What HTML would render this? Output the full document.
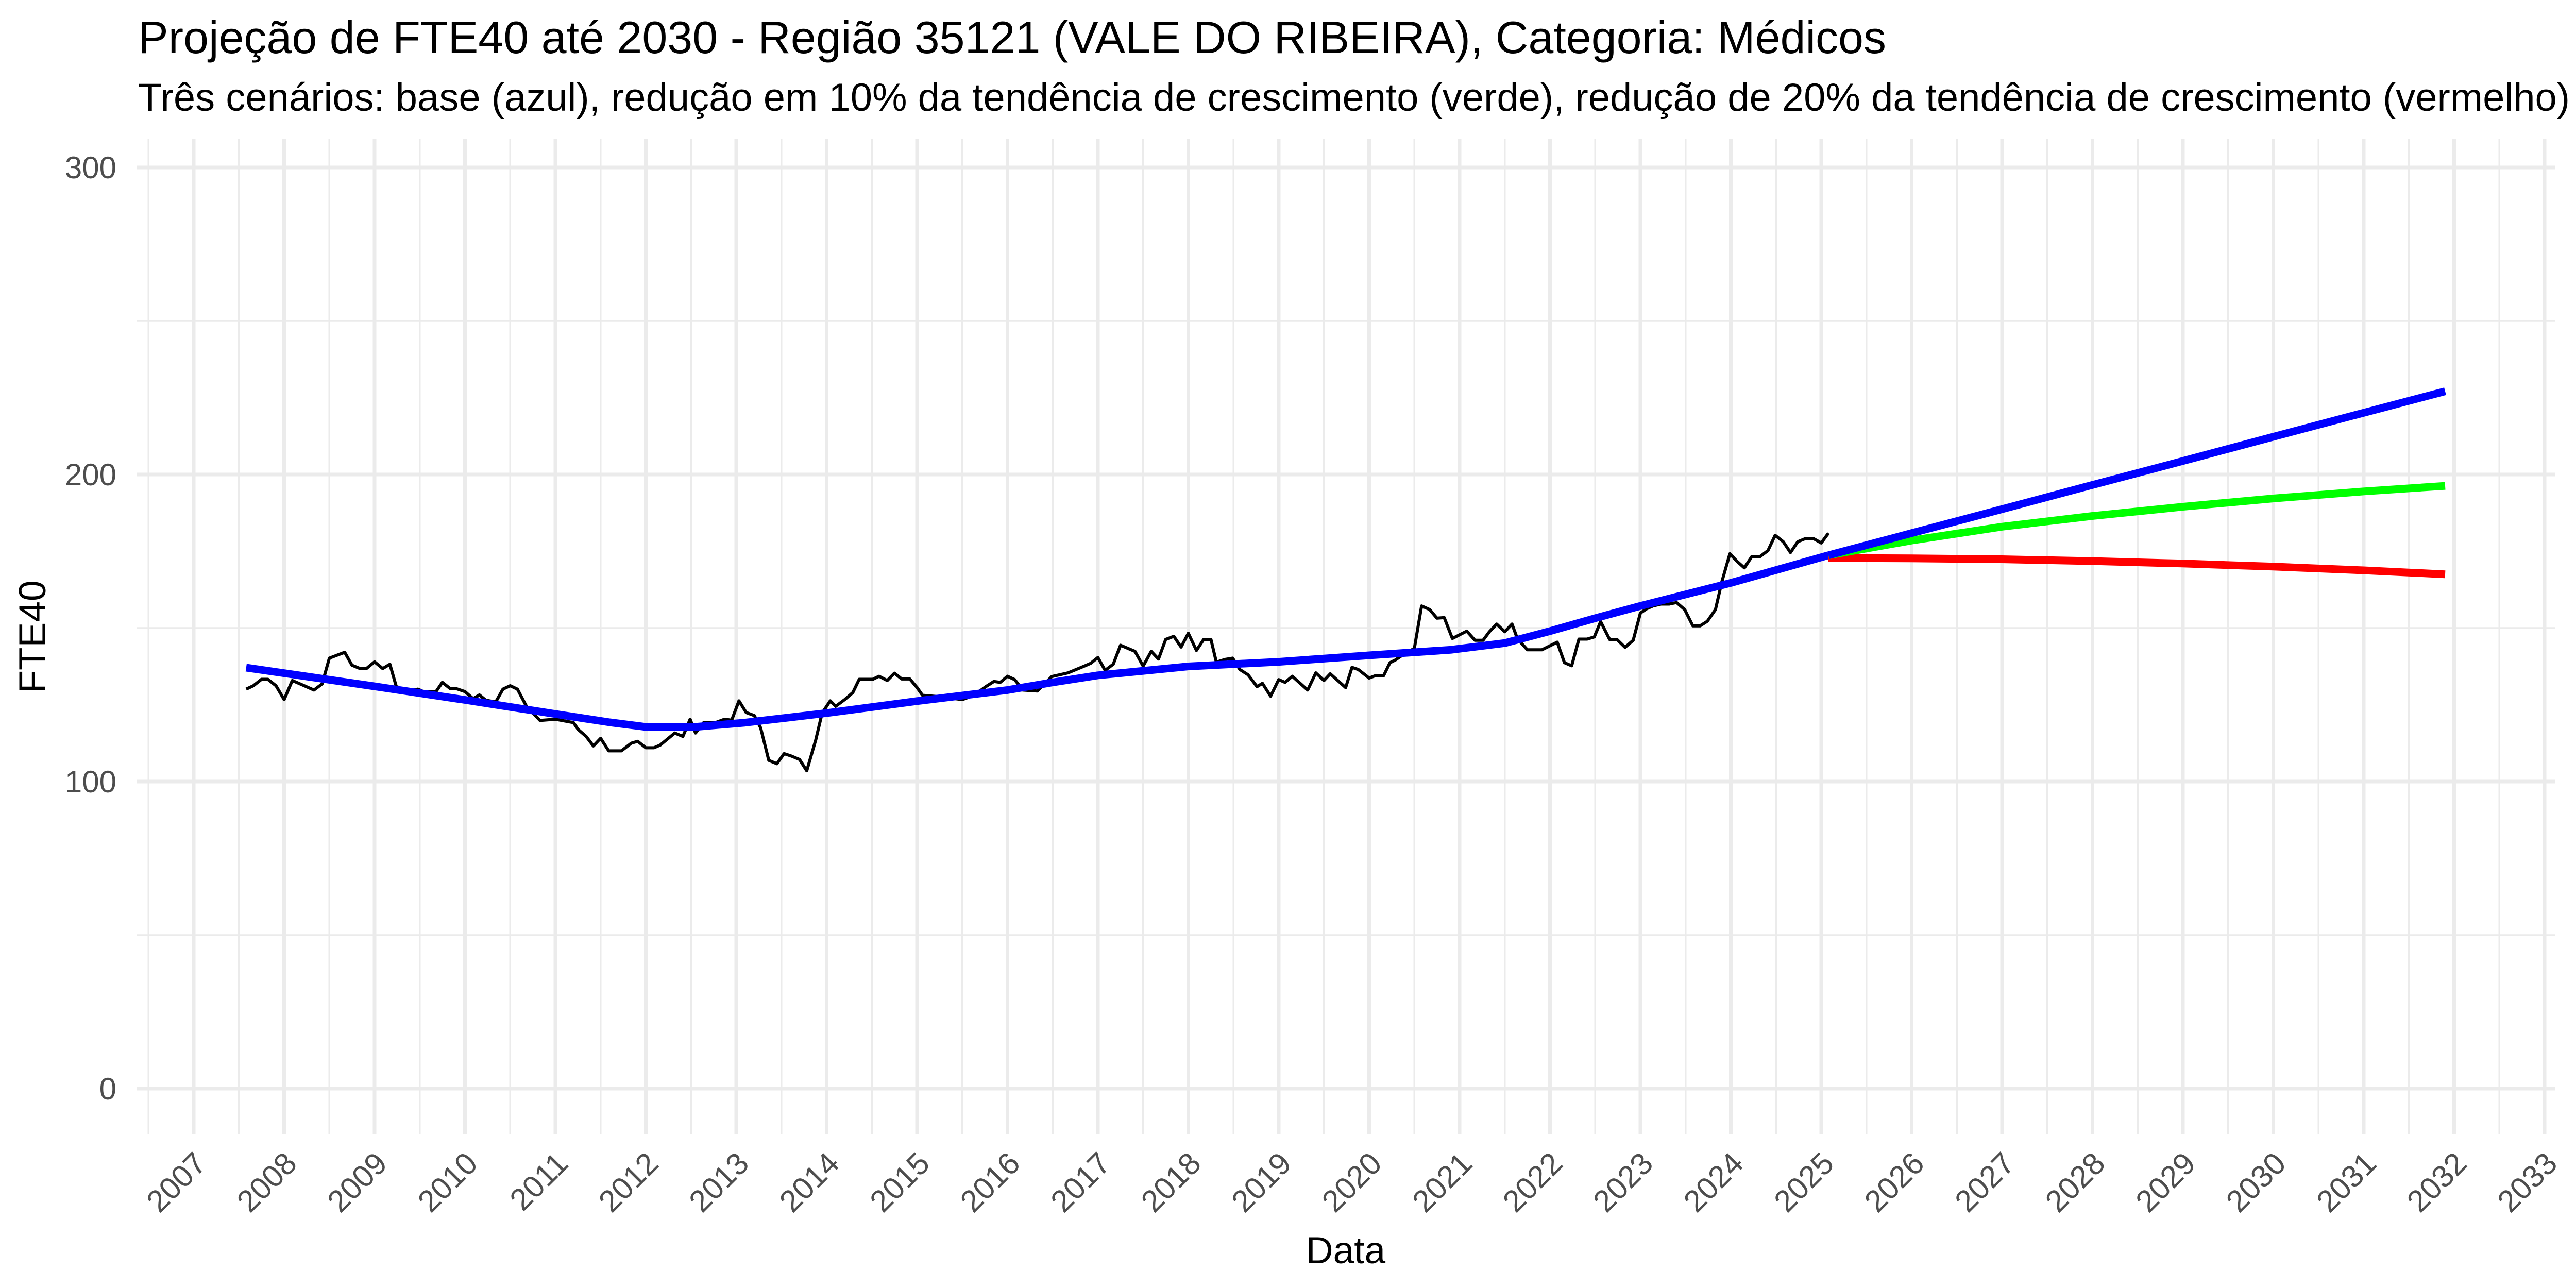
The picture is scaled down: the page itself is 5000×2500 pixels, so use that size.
<!DOCTYPE html>
<html><head><meta charset="utf-8"><style>
html,body{margin:0;padding:0;background:#fff;}
svg{display:block;font-family:"Liberation Sans",Arial,sans-serif;}
</style></head><body>
<svg id="chart" width="5000" height="2500" viewBox="0 0 5000 2500" xmlns="http://www.w3.org/2000/svg">
<text x="268" y="103" font-size="88" fill="#000">Projeção de FTE40 até 2030 - Região 35121 (VALE DO RIBEIRA), Categoria: Médicos</text>
<text x="268" y="215" font-size="76" fill="#000">Três cenários: base (azul), redução em 10% da tendência de crescimento (verde), redução de 20% da tendência de crescimento (vermelho)</text>
<g id="grid"></g>
<g id="yticks"></g>
<g id="xticks"></g>
<g id="series"></g>
<text x="2612" y="2452" font-size="73" text-anchor="middle" fill="#000">Data</text>
<text x="0" y="0" font-size="73" text-anchor="middle" fill="#000" transform="translate(88,1236) rotate(-90)">FTE40</text>
</svg>
<script>
const obsYears = [2007.58,2007.66,2007.75,2007.82,2007.91,2008.0,2008.09,2008.2,2008.33,2008.42,2008.5,2008.67,2008.75,2008.84,2008.91,2009.0,2009.09,2009.17,2009.24,2009.36,2009.48,2009.54,2009.68,2009.75,2009.84,2009.91,2010.0,2010.09,2010.16,2010.23,2010.34,2010.42,2010.5,2010.58,2010.68,2010.83,2011.0,2011.2,2011.25,2011.34,2011.42,2011.5,2011.59,2011.73,2011.84,2011.91,2012.0,2012.09,2012.16,2012.32,2012.41,2012.49,2012.55,2012.64,2012.77,2012.87,2012.95,2013.03,2013.11,2013.2,2013.27,2013.36,2013.45,2013.53,2013.61,2013.7,2013.78,2013.88,2013.95,2014.04,2014.1,2014.2,2014.29,2014.36,2014.45,2014.51,2014.58,2014.67,2014.75,2014.83,2014.92,2015.0,2015.06,2015.26,2015.5,2015.63,2015.76,2015.85,2015.92,2016.0,2016.08,2016.17,2016.33,2016.4,2016.49,2016.67,2016.85,2016.92,2017.0,2017.08,2017.17,2017.25,2017.41,2017.5,2017.59,2017.67,2017.75,2017.84,2017.92,2018.0,2018.09,2018.17,2018.25,2018.31,2018.41,2018.49,2018.57,2018.66,2018.76,2018.82,2018.91,2019.0,2019.07,2019.15,2019.32,2019.41,2019.5,2019.57,2019.74,2019.81,2019.88,2020.0,2020.07,2020.16,2020.23,2020.29,2020.36,2020.5,2020.58,2020.67,2020.75,2020.83,2020.92,2021.08,2021.17,2021.26,2021.33,2021.41,2021.5,2021.58,2021.64,2021.75,2021.91,2022.08,2022.16,2022.24,2022.32,2022.41,2022.49,2022.56,2022.66,2022.74,2022.83,2022.92,2023.0,2023.07,2023.14,2023.23,2023.32,2023.4,2023.49,2023.58,2023.66,2023.74,2023.83,2023.9,2023.99,2024.07,2024.15,2024.23,2024.32,2024.41,2024.49,2024.58,2024.66,2024.74,2024.83,2024.91,2025.0,2025.08];
const obsValues = [130.1,131.2,133.3,133.3,131.2,126.7,132.9,131.5,129.8,131.8,140.2,142.1,137.9,136.8,136.8,139,136.8,138.2,131,129.5,130.1,129.3,129.3,132.3,130.2,130.2,129.3,127,128.2,126.5,125.9,130.1,131.2,130.1,124.5,119.9,120.3,119.2,117,114.7,111.6,114.1,110,110,112.5,113.1,111,111,111.9,115.8,114.7,120.3,115.8,119.2,119.2,120.3,120,126.3,122.5,121.5,117.5,106.9,105.8,109.1,108.3,107.2,103.5,113.6,122.3,126.3,124.5,126.7,129,133.3,133.3,133.3,134.3,132.9,135.3,133.4,133.4,130.6,128.1,127.6,126.7,128.1,130.9,132.6,132.3,134.3,133.2,129.8,129.5,131.5,134.2,135.4,137.6,138.5,140.4,136.2,138.2,144.4,142.4,137.6,142.4,139.9,146.3,147.3,143.8,148.3,142.7,146.3,146.3,138.9,139.8,140.2,136.5,134.8,130.9,132,127.8,133.2,132.3,134.3,129.8,135.4,132.9,135.1,130.6,137.2,136.5,133.7,134.5,134.5,138.7,139.6,141,143.4,157.2,156,153.2,153.4,146.6,149,146,146,148.8,151.3,148.8,151.3,146.5,142.9,142.9,145.4,138.7,137.7,146.4,146.4,147.1,152.1,146.3,146.3,143.7,146,154.9,156.3,157.2,157.8,157.8,158.3,156,150.7,150.7,152.2,156,165,174.2,171.7,169.6,173.2,173.2,175.2,180.2,178.1,174.6,178.1,179.2,179.2,177.7,180.9];
const trendYears = [2007.58,2009,2010,2011,2011.6,2012.0,2012.55,2013.1,2014,2015,2016,2016.5,2017,2018,2019,2020,2020.9,2021.5,2022,2022.5,2023,2024,2025.08];
const trendValues = [137.1,131,126.6,122,119.3,117.8,117.8,119.2,122.3,126.2,129.8,132.3,134.6,137.5,139,141.1,142.9,145.1,149,153.2,157.2,164.7,173.7];
const projYears = [2025.08,2026,2027,2028,2029,2030,2031,2031.9];
const baseValues = [173.7,180.9,188.7,196.6,204.4,212.3,220.1,227.1];
const greenValues = [173.7,178.5,183,186.5,189.5,192.2,194.5,196.3];
const redValues = [172.8,172.7,172.4,171.8,171,170,168.8,167.5];
const yTicks = [0,100,200,300];
const yMinor = [50,150,250];
const xTickYears = [2007,2008,2009,2010,2011,2012,2013,2014,2015,2016,2017,2018,2019,2020,2021,2022,2023,2024,2025,2026,2027,2028,2029,2030,2031,2032,2033];

const NS = "http://www.w3.org/2000/svg";
const PL = 265, PR = 4960, PT = 269, PB = 2202;
function xs(yr){ return 376 + (yr - 2007) * 175.5; }
function ys(v){ return 2113 - v * 5.96; }
function mk(tag, attrs, parent){
  const e = document.createElementNS(NS, tag);
  for (const k in attrs) e.setAttribute(k, attrs[k]);
  parent.appendChild(e);
  return e;
}
const grid = document.getElementById('grid');
yMinor.forEach(v => {
  const l = mk('line', {x1:PL, x2:PR, y1:ys(v), y2:ys(v), stroke:'#ebebeb', 'stroke-width':3.5}, grid);
  
  
});
xTickYears.concat([2006]).forEach(yr => {
  const x = xs(yr + 0.5);
  if (x > PL && x < PR) {
    const l = mk('line', {x1:x, x2:x, y1:PT, y2:PB, stroke:'#ebebeb', 'stroke-width':3.5}, grid);
    
    
  }
});
yTicks.forEach(v => {
  const l = mk('line', {x1:PL, x2:PR, y1:ys(v), y2:ys(v), stroke:'#ebebeb', 'stroke-width':7}, grid);
  
  
  const t = mk('text', {x:226, y:ys(v)+21, 'font-size':60, 'text-anchor':'end', fill:'#4d4d4d'}, document.getElementById('yticks'));
  t.textContent = v;
  
  
});
xTickYears.forEach(yr => {
  const x = xs(yr);
  const l = mk('line', {x1:x, x2:x, y1:PT, y2:PB, stroke:'#ebebeb', 'stroke-width':7}, grid);
  
  
  const t = mk('text', {x:0, y:0, 'font-size':60, 'text-anchor':'end', fill:'#4d4d4d', transform:'translate(' + (x+28) + ',2262) rotate(-45)'}, document.getElementById('xticks'));
  t.textContent = yr;
  
  
});
function path(years, vals, color, w, name){
  const d = years.map((yr,i) => (i ? 'L' : 'M') + xs(yr).toFixed(1) + ',' + ys(vals[i]).toFixed(1)).join(' ');
  const p = mk('path', {d:d, fill:'none', stroke:color, 'stroke-width':w, 'stroke-linejoin':'round'}, document.getElementById('series'));
  
  
}
path(obsYears, obsValues, '#000', 6, 'observed-line');
path(trendYears, trendValues, '#0000ff', 15, 'historical-trend-line');
path(projYears, redValues, '#ff0000', 15, 'reduction-20-line');
path(projYears, greenValues, '#00ff00', 15, 'reduction-10-line');
path(projYears, baseValues, '#0000ff', 15, 'base-projection-line');
</script>
</body></html>
